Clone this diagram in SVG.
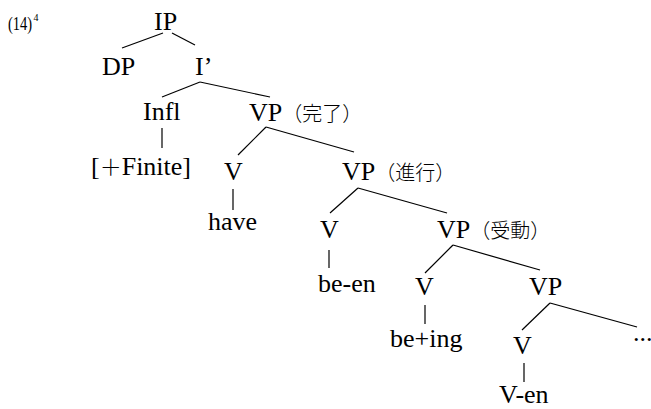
<svg xmlns="http://www.w3.org/2000/svg" width="651" height="409" viewBox="0 0 651 409">
<style>
text{font-family:"Liberation Serif","Times New Roman",serif;font-size:26px;fill:#000}
.cjk{font-family:"Noto Sans CJK JP",sans-serif;font-size:20px;font-weight:300}
line{stroke:#000;stroke-width:1.2}
</style>
<rect width="651" height="409" fill="#fff"/>
<text transform="translate(8,30) scale(1,1.35)" style="font-size:14.5px">(14)</text>
<text x="33.5" y="21" style="font-size:10px">4</text>
<g id="connectors">
<line x1="163" y1="33" x2="122" y2="48"/>
<line x1="172" y1="33" x2="195" y2="45"/>
<line x1="200" y1="82" x2="162" y2="97"/>
<line x1="200" y1="82" x2="270" y2="97"/>
<line x1="162" y1="128" x2="162" y2="148"/>
<line x1="266" y1="127" x2="238" y2="155"/>
<line x1="266" y1="127" x2="354" y2="152"/>
<line x1="233" y1="189" x2="233" y2="210"/>
<line x1="358" y1="188" x2="330" y2="213"/>
<line x1="358" y1="188" x2="447" y2="213"/>
<line x1="329" y1="250" x2="329" y2="268"/>
<line x1="453" y1="245" x2="425" y2="273"/>
<line x1="453" y1="245" x2="540" y2="270"/>
<line x1="425" y1="305" x2="425" y2="324"/>
<line x1="550" y1="303" x2="522" y2="330"/>
<line x1="550" y1="303" x2="637" y2="327"/>
<line x1="524" y1="363" x2="524" y2="382"/>
</g>
<g id="n-IP"><text x="154" y="30">IP</text></g>
<g id="n-DP"><text x="102" y="75">DP</text></g>
<g id="n-Ibar"><text x="195" y="75">I’</text></g>
<g id="n-Infl"><text x="143" y="120">Infl</text></g>
<g id="n-finite"><text x="91" y="175">[<tspan class="cjk" style="font-size:22px">＋</tspan>Finite]</text></g>
<g id="n-VP1"><text x="249" y="121">VP<tspan class="cjk">（完了）</tspan></text></g>
<g id="n-V1"><text x="224" y="180">V</text></g>
<g id="n-have"><text x="208" y="230">have</text></g>
<g id="n-VP2"><text x="342" y="180">VP<tspan class="cjk">（進行）</tspan></text></g>
<g id="n-V2"><text x="320" y="238">V</text></g>
<g id="n-been"><text x="318" y="292">be-en</text></g>
<g id="n-VP3"><text x="437" y="238">VP<tspan class="cjk">（受動）</tspan></text></g>
<g id="n-V3"><text x="415" y="295">V</text></g>
<g id="n-being"><text x="390" y="347">be+ing</text></g>
<g id="n-VP4"><text x="529" y="295">VP</text></g>
<g id="n-V4"><text x="513" y="354">V</text></g>
<g id="n-dots"><text x="633" y="341">...</text></g>
<g id="n-Ven"><text x="499" y="403">V-en</text></g>
</svg>
